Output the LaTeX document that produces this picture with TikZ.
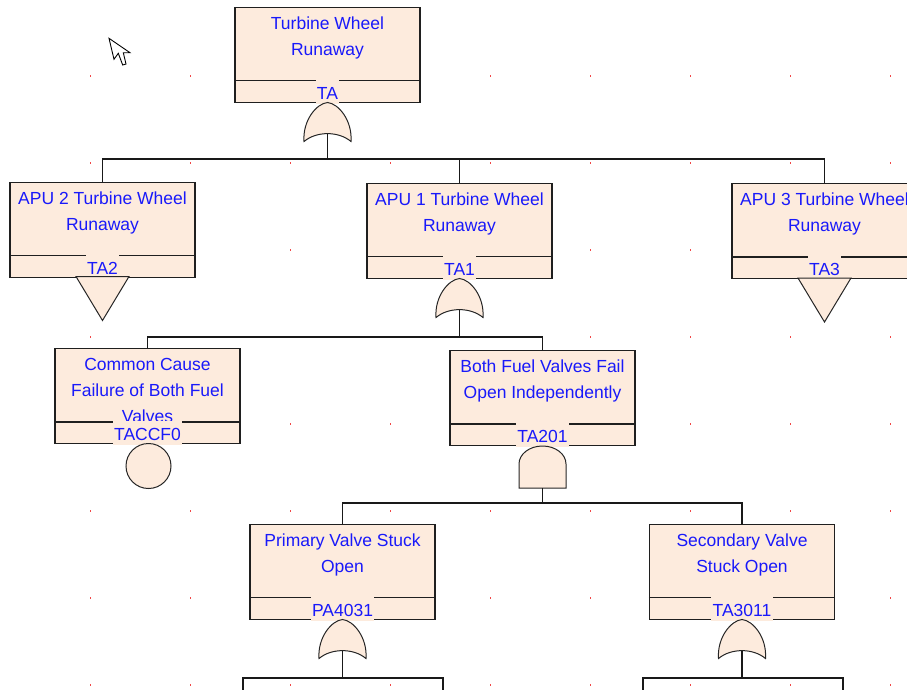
\documentclass[tikz,border=0pt]{standalone}
\usepackage{fontspec}
\setmainfont{Liberation Sans}
\definecolor{boxfill}{RGB}{253,235,221}
\definecolor{txtblue}{RGB}{25,25,250}
\definecolor{dotred}{RGB}{240,70,70}
\tikzset{
 evbox/.style={draw=black!88, line width=1.4pt, fill=boxfill, minimum width=185pt, minimum height=95pt, inner sep=0pt, anchor=north},
 evtext/.style={text=txtblue, font=\fontsize{17.5}{26}\selectfont, align=center, inner sep=0pt, anchor=north},
 evid/.style={text=txtblue, font=\fontsize{17.5}{26}\selectfont, fill=boxfill, inner xsep=1.3pt, inner ysep=0pt, text height=19.9pt, text depth=4.6pt, anchor=base},
 divline/.style={draw=black!88, line width=1.4pt},
 gate/.style={draw=black!85, line width=1pt, fill=boxfill},
 conn/.style={draw=black!90, line width=1.4pt},
}
\newcommand\ftbox[5]{%
 \node[evbox] (#1) at (#2,#3) {};
 \draw[divline] ([yshift=22.5pt]#1.south west) -- ([yshift=22.5pt]#1.south east);
 \node[evtext] (#1t) at ([yshift=-10pt]#1.north) {#4};
 \node[evid] (#1id) at ([yshift=3.6pt]#1.south) {#5};
}
\newcommand\orgate[3]{%
 \draw[gate] ({#2-23.5},{#3+39}) .. controls ({#2-25},{#3+18}) and ({#2-11},{#3+1}) .. (#2,#3) .. controls ({#2+11},{#3+1}) and ({#2+25},{#3+18}) .. ({#2+23.5},{#3+39}) .. controls ({#2+11},{#3+28.5}) and ({#2-11},{#3+28.5}) .. cycle;
 \coordinate (#1) at (#2,{#3+31});
}
\newcommand\andgate[3]{%
 \draw[gate] ({#2-23.5},#3) -- ({#2-23.5},{#3-24}) .. controls ({#2-23.5},{#3-34}) and ({#2-13},{#3-42}) .. (#2,{#3-42}) .. controls ({#2+13},{#3-42}) and ({#2+23.5},{#3-34}) .. ({#2+23.5},{#3-24}) -- ({#2+23.5},#3) -- cycle;
 \coordinate (#1) at (#2,#3);
}
\newcommand\trigate[2]{%
 \draw[gate] ({#1-26.5},#2) -- (#1,{#2+44}) -- ({#1+26.5},#2) -- cycle;
}
\begin{document}
\begin{tikzpicture}[x=1pt,y=-1pt]
\useasboundingbox (0,0) rectangle (907,689);
\clip (0,0) rectangle (907,689);
\fill[white] (0,0) rectangle (907,689);
% grid dots
\foreach \i in {0,...,8} \foreach \j in {0,...,7}
  \fill[dotred] ({90.5+100*\i-0.9},{76+87*\j-0.9}) rectangle ++(1.8,1.8);
% boxes
\ftbox{TA}{327.5}{6.5}{Turbine Wheel\\Runaway}{TA}
\ftbox{TA2}{102.5}{181.5}{APU 2 Turbine Wheel\\Runaway}{TA2}
\ftbox{TA1}{459.5}{182.5}{APU 1 Turbine Wheel\\Runaway}{TA1}
\ftbox{TA3}{824.5}{183}{APU 3 Turbine Wheel\\Runaway}{TA3}
\ftbox{TACCF0}{147.5}{348}{Common Cause\\Failure of Both Fuel\\Valves}{TACCF0}
\ftbox{TA201}{542.5}{350}{Both Fuel Valves Fail\\Open Independently}{TA201}
\ftbox{PA4031}{342.5}{523.5}{Primary Valve Stuck\\Open}{PA4031}
\ftbox{TA3011}{742}{523.5}{Secondary Valve\\Stuck Open}{TA3011}
% gates
\orgate{gTA}{327.5}{102.5}
\orgate{gTA1}{459.5}{278.5}
\orgate{gPA4031}{342.5}{619.5}
\orgate{gTA3011}{742}{619.5}
\andgate{gTA201}{542.5}{488}
\trigate{102.5}{276.5}
\trigate{824.5}{278}
\draw[gate] (148.5,466) circle[radius=22.5];
% connectors
\coordinate (bTA) at (327.5,159);
\draw[conn] (gTA) -- (bTA);
\draw[conn] (TA2.north) |- (bTA) -| (TA3.north);
\draw[conn] (bTA) -| (TA1.north);
\coordinate (bTA1) at (459.5,337);
\draw[conn] (gTA1) -- (bTA1);
\draw[conn] (TACCF0.north) |- (bTA1) -| (TA201.north);
\coordinate (bTA201) at (542.5,503);
\draw[conn] (gTA201) -- (bTA201);
\draw[conn] (PA4031.north) |- (bTA201) -| (TA3011.north);
\coordinate (bPA) at (342.5,678);
\coordinate (ePAl) at (243,695);
\coordinate (ePAr) at (443,695);
\draw[conn] (gPA4031) -- (bPA);
\draw[conn] (ePAl) |- (bPA) -| (ePAr);
\coordinate (bTS) at (742,678);
\coordinate (eTSl) at (643,695);
\coordinate (eTSr) at (843,695);
\draw[conn] (gTA3011) -- (bTS);
\draw[conn] (eTSl) |- (bTS) -| (eTSr);
% mouse cursor
\draw[fill=white, draw=black, line width=0.9pt, line join=miter] (109,38.3) -- (114,59.3) -- (118.3,53.3) -- (122.7,65) -- (126,64) -- (123.3,52.7) -- (130,52.7) -- cycle;
\end{tikzpicture}
\end{document}
